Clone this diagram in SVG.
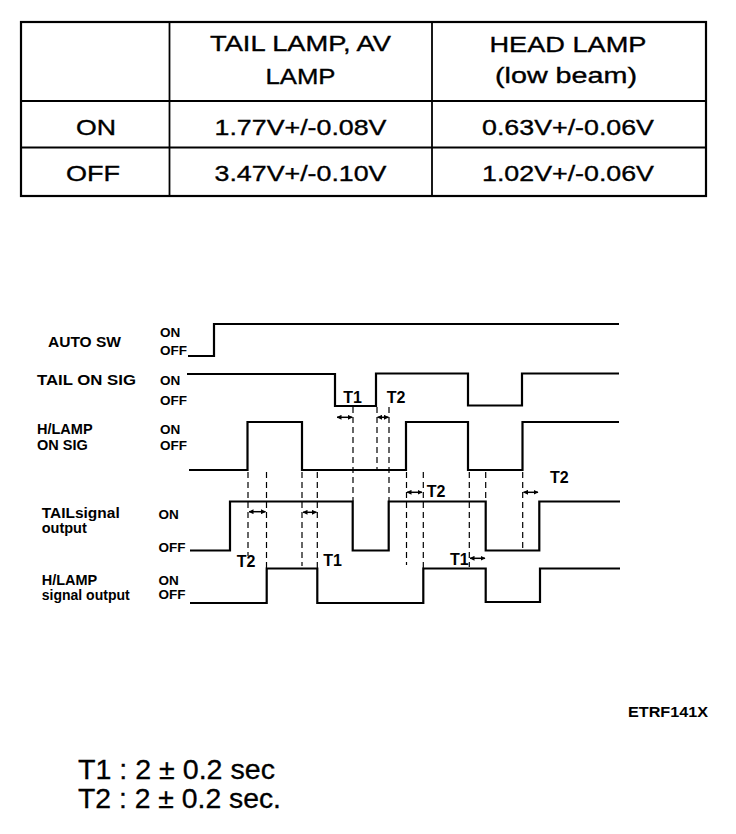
<svg xmlns="http://www.w3.org/2000/svg" width="736" height="834" viewBox="0 0 736 834">
<defs>
<style>
.tb{font-family:"Liberation Sans",Arial,sans-serif;font-size:22px;fill:#000;stroke:#000;stroke-width:0.35;text-anchor:middle}
.lb{font-family:"Liberation Sans",Arial,sans-serif;font-size:14.5px;font-weight:bold;fill:#000}
.st{font-family:"Liberation Sans",Arial,sans-serif;font-size:13.5px;font-weight:bold;fill:#000}
.tl{font-family:"Liberation Sans",Arial,sans-serif;font-size:16px;font-weight:bold;fill:#000}
.wave{fill:none;stroke:#000;stroke-width:2.2}
.dash{fill:none;stroke:#000;stroke-width:1.2;stroke-dasharray:6 4}
.arr{fill:none;stroke:#000;stroke-width:1.5;marker-start:url(#ah);marker-end:url(#ah)}
.note{font-family:"Liberation Sans",Arial,sans-serif;font-size:27px;fill:#000;stroke:#000;stroke-width:0.3}
</style>
<marker id="ah" viewBox="0 0 10 10" refX="9" refY="5" markerWidth="5" markerHeight="5" orient="auto-start-reverse" markerUnits="userSpaceOnUse">
<path d="M0,0 L10,5 L0,10 z" fill="#000"/>
</marker>
</defs>
<rect width="736" height="834" fill="#fff"/>

<g id="table">
<rect x="21" y="22" width="685" height="174" fill="none" stroke="#000" stroke-width="2.2"/>
<line x1="169.5" y1="22" x2="169.5" y2="196" stroke="#000" stroke-width="1.8"/>
<line x1="432" y1="22" x2="432" y2="196" stroke="#000" stroke-width="1.8"/>
<line x1="21" y1="101" x2="706" y2="101" stroke="#000" stroke-width="1.8"/>
<line x1="21" y1="147.5" x2="706" y2="147.5" stroke="#000" stroke-width="1.8"/>
<text class="tb" x="300.5" y="51" textLength="181" lengthAdjust="spacingAndGlyphs">TAIL LAMP, AV</text>
<text class="tb" x="300.5" y="84" textLength="70" lengthAdjust="spacingAndGlyphs">LAMP</text>
<text class="tb" x="568" y="52" textLength="157" lengthAdjust="spacingAndGlyphs">HEAD LAMP</text>
<text class="tb" x="566" y="83" textLength="142" lengthAdjust="spacingAndGlyphs">(low beam)</text>
<text class="tb" x="96" y="134.5" textLength="40" lengthAdjust="spacingAndGlyphs">ON</text>
<text class="tb" x="93" y="181" textLength="54" lengthAdjust="spacingAndGlyphs">OFF</text>
<text class="tb" x="300.5" y="134.5" textLength="172" lengthAdjust="spacingAndGlyphs">1.77V+/-0.08V</text>
<text class="tb" x="568" y="134.5" textLength="172" lengthAdjust="spacingAndGlyphs">0.63V+/-0.06V</text>
<text class="tb" x="300.5" y="181" textLength="172" lengthAdjust="spacingAndGlyphs">3.47V+/-0.10V</text>
<text class="tb" x="568" y="181" textLength="172" lengthAdjust="spacingAndGlyphs">1.02V+/-0.06V</text>
</g>

<g id="auto-sw">
<text class="lb" x="48" y="347" textLength="73" lengthAdjust="spacingAndGlyphs">AUTO SW</text>
<text class="st" x="160" y="336.5">ON</text>
<text class="st" x="160" y="354.5">OFF</text>
<path class="wave" d="M188,356 H214 V324 H619"/>
</g>

<g id="tail-on-sig">
<text class="lb" x="37" y="385" textLength="99" lengthAdjust="spacingAndGlyphs">TAIL ON SIG</text>
<text class="st" x="160" y="385">ON</text>
<text class="st" x="160" y="405">OFF</text>
<path class="wave" d="M187,374 H335 V406 H376 V373.5 H468 V405.5 H522 V373.5 H619"/>
</g>

<g id="hlamp-on-sig">
<text class="lb" x="37" y="434">H/LAMP</text>
<text class="lb" x="37" y="449.5">ON SIG</text>
<text class="st" x="160" y="434">ON</text>
<text class="st" x="160" y="449.5">OFF</text>
<path class="wave" d="M189,470 H247.5 V422 H302 V470 H406 V422 H468 V470 H522.5 V422 H619"/>
</g>

<g id="tail-signal-output">
<text class="lb" x="41.7" y="518" textLength="78" lengthAdjust="spacingAndGlyphs">TAILsignal</text>
<text class="lb" x="41.7" y="532.5">output</text>
<text class="st" x="158.5" y="518.5">ON</text>
<text class="st" x="158.5" y="551.5">OFF</text>
<path class="wave" d="M190,550.5 H230 V501.5 H352.7 V550.5 H388.7 V501.5 H485.7 V550.5 H539.3 V501.5 H620"/>
</g>

<g id="hlamp-signal-output">
<text class="lb" x="41.7" y="585">H/LAMP</text>
<text class="lb" x="41.7" y="600" textLength="88" lengthAdjust="spacingAndGlyphs">signal output</text>
<text class="st" x="158.5" y="584.5">ON</text>
<text class="st" x="158.5" y="598.5">OFF</text>
<path class="wave" d="M190,603 H266.7 V568.5 H317.3 V603 H423.3 V568.5 H485.7 V602 H540 V568.5 H620"/>
</g>

<g id="connectors">
<line class="dash" x1="248" y1="472" x2="248" y2="556"/>
<line class="dash" x1="266.5" y1="472" x2="266.5" y2="568"/>
<line class="dash" x1="302" y1="472" x2="302" y2="566"/>
<line class="dash" x1="317.3" y1="472" x2="317.3" y2="568"/>
<line class="dash" x1="353" y1="407" x2="353" y2="501"/>
<line class="dash" x1="377" y1="407" x2="377" y2="470"/>
<line class="dash" x1="389" y1="407" x2="389" y2="501"/>
<line class="dash" x1="406.5" y1="472" x2="406.5" y2="565"/>
<line class="dash" x1="423.3" y1="472" x2="423.3" y2="568"/>
<line class="dash" x1="469.3" y1="472" x2="469.3" y2="567"/>
<line class="dash" x1="485.7" y1="472" x2="485.7" y2="501"/>
<line class="dash" x1="522.7" y1="472" x2="522.7" y2="550"/>
<path class="arr" d="M337,417.3 H352.3"/>
<path class="arr" d="M377.5,417.3 H388.5"/>
<path class="arr" d="M249,511.7 H265.5"/>
<path class="arr" d="M303,512.3 H316.5"/>
<path class="arr" d="M407,492.3 H422"/>
<path class="arr" d="M523.5,492.3 H538"/>
<path class="arr" d="M470,558.3 H485"/>
<text class="tl" x="343.3" y="402.5">T1</text>
<text class="tl" x="386.7" y="402.5">T2</text>
<text class="tl" x="236.7" y="566.5">T2</text>
<text class="tl" x="323.3" y="566">T1</text>
<text class="tl" x="426.7" y="496.7">T2</text>
<text class="tl" x="550" y="482.7">T2</text>
<text class="tl" x="450" y="565">T1</text>
</g>

<g id="notes">
<text class="lb" x="628" y="717" textLength="80" lengthAdjust="spacingAndGlyphs" style="font-size:14px">ETRF141X</text>
<text class="note" x="78" y="779" textLength="197" lengthAdjust="spacingAndGlyphs">T1 : 2 ± 0.2 sec</text>
<text class="note" x="78" y="808" textLength="203" lengthAdjust="spacingAndGlyphs">T2 : 2 ± 0.2 sec.</text>
</g>
</svg>
